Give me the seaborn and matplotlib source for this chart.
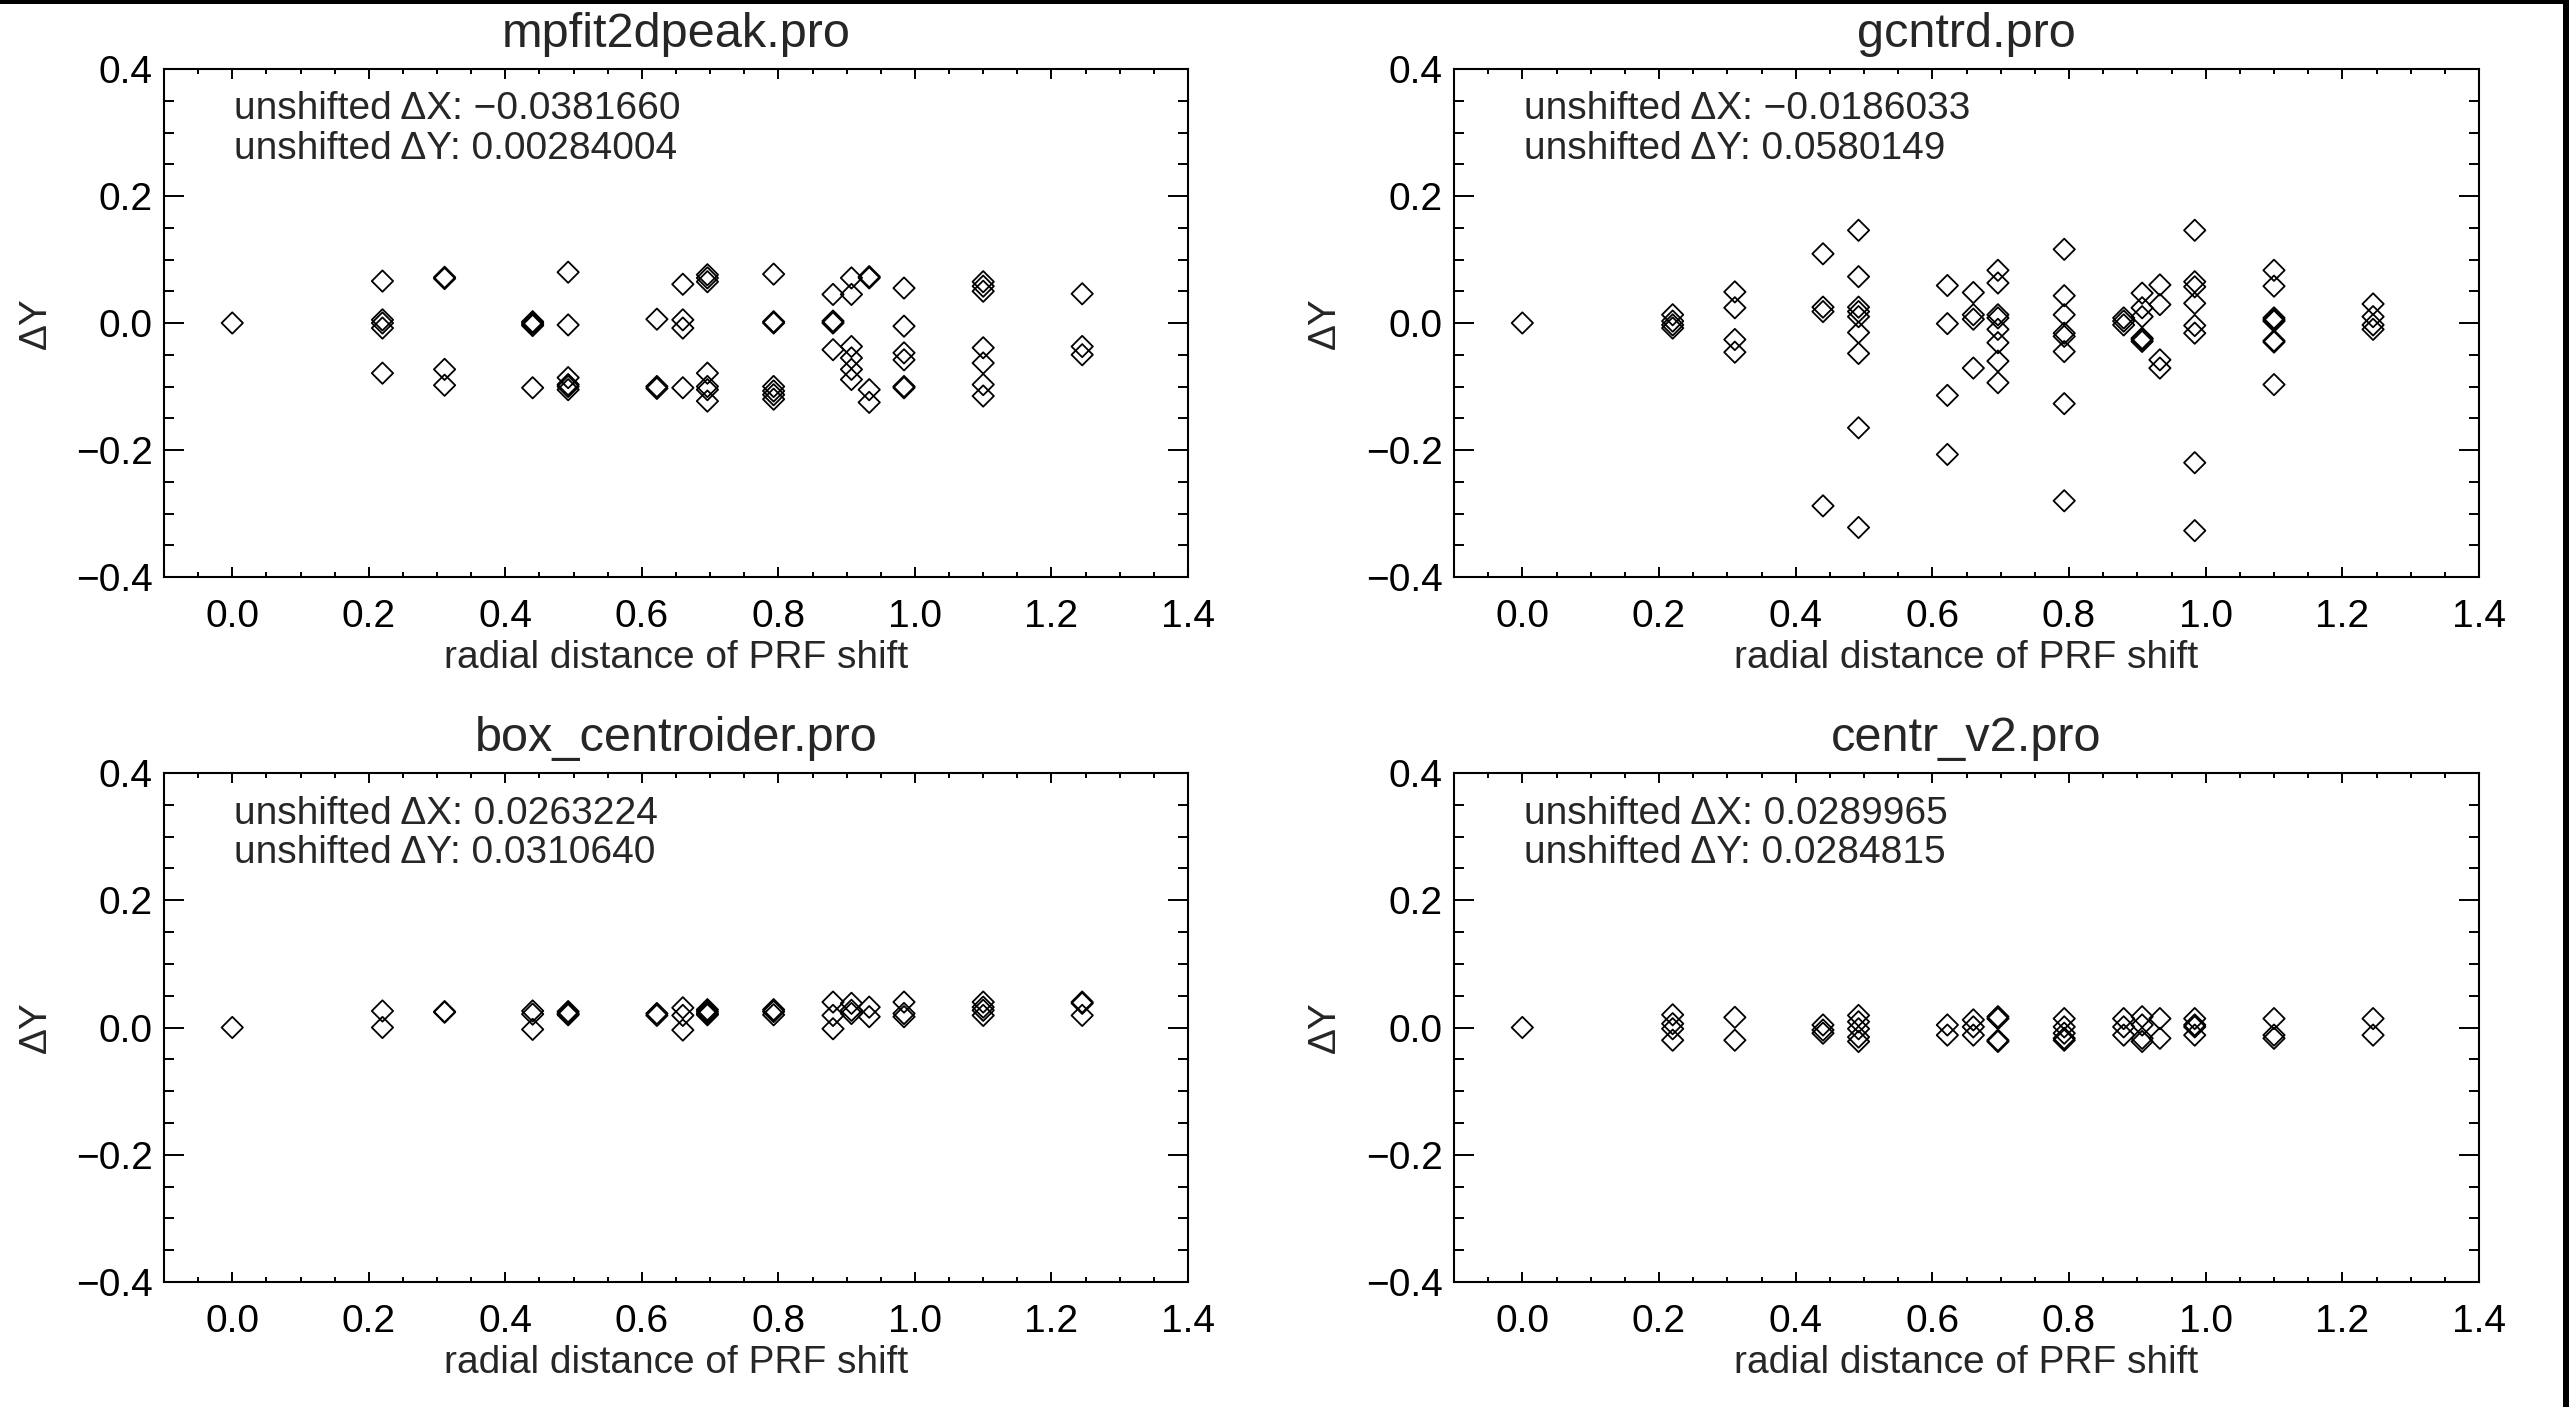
import matplotlib
matplotlib.use("Agg")
import matplotlib.pyplot as plt
from matplotlib.patches import Rectangle
from matplotlib.ticker import MultipleLocator
import seaborn as sns
import pandas as pd

# ---------------- data ----------------
radial = [0.0, 0.220, 0.311, 0.440, 0.492, 0.622, 0.660, 0.696,
          0.793, 0.880, 0.907, 0.933, 0.984, 1.100, 1.245]

mpfit_dy = [
    [0.0],
    [0.066, 0.005, 0.0, -0.008, -0.079],
    [0.072, 0.070, -0.073, -0.098],
    [0.002, 0.0, -0.002, -0.004, -0.102],
    [0.080, -0.003, -0.086, -0.097, -0.100, -0.105],
    [0.006, -0.100, -0.103],
    [0.061, 0.005, -0.008, -0.102],
    [0.076, 0.071, 0.065, -0.079, -0.100, -0.105, -0.123],
    [0.077, 0.002, 0.0, -0.100, -0.107, -0.113, -0.120],
    [0.045, 0.003, 0.0, -0.042],
    [0.071, 0.045, -0.037, -0.055, -0.073, -0.089],
    [0.073, 0.071, -0.105, -0.125],
    [0.055, -0.005, -0.047, -0.058, -0.100, -0.102],
    [0.065, 0.058, 0.050, -0.039, -0.063, -0.097, -0.115],
    [0.046, -0.037, -0.050],
]

gcntrd_dy = [
    [0.0],
    [0.013, 0.003, -0.003, -0.008],
    [0.049, 0.024, -0.026, -0.046],
    [0.109, 0.025, 0.018, -0.288],
    [0.146, 0.073, 0.025, 0.018, 0.010, -0.015, -0.048, -0.165, -0.322],
    [0.059, -0.001, -0.114, -0.207],
    [0.048, 0.013, 0.006, -0.071],
    [0.083, 0.063, 0.013, 0.008, -0.010, -0.031, -0.060, -0.094],
    [0.116, 0.043, 0.013, -0.016, -0.021, -0.045, -0.127, -0.280],
    [0.008, 0.003, -0.003],
    [0.047, 0.024, 0.010, -0.024, -0.026, -0.029],
    [0.060, 0.029, -0.058, -0.071],
    [0.146, 0.065, 0.057, 0.031, -0.004, -0.016, -0.220, -0.327],
    [0.083, 0.058, 0.008, 0.005, 0.003, -0.028, -0.030, -0.097],
    [0.030, 0.010, -0.003, -0.010],
]

box_dy = [
    [0.0],
    [0.026, 0.0],
    [0.025, 0.024],
    [0.026, 0.021, -0.003],
    [0.025, 0.022, 0.020],
    [0.022, 0.019],
    [0.031, 0.019, -0.004],
    [0.028, 0.025, 0.022, 0.020],
    [0.028, 0.025, 0.020],
    [0.040, 0.019, -0.002],
    [0.038, 0.027, 0.022],
    [0.032, 0.017],
    [0.040, 0.022, 0.017],
    [0.040, 0.032, 0.027, 0.019],
    [0.040, 0.038, 0.019],
]

centr_dy = [
    [0.0],
    [0.020, 0.006, -0.002, -0.020],
    [0.016, -0.020],
    [0.004, -0.004, -0.009],
    [0.019, 0.009, -0.002, -0.015, -0.022],
    [0.004, -0.012],
    [0.012, 0.001, -0.012],
    [0.017, 0.014, -0.020, -0.022],
    [0.014, 0.001, -0.009, -0.017, -0.020],
    [0.014, 0.001, -0.012],
    [0.017, 0.004, -0.017, -0.022],
    [0.014, -0.017],
    [0.014, 0.004, 0.001, -0.012],
    [0.014, -0.012, -0.017],
    [0.014, -0.012],
]

titles = ["mpfit2dpeak.pro", "gcntrd.pro", "box_centroider.pro", "centr_v2.pro"]
unshifted_dx = ["\u22120.0381660", "\u22120.0186033", "0.0263224", "0.0289965"]
unshifted_dy = ["0.00284004", "0.0580149", "0.0310640", "0.0284815"]
panel_dy = [mpfit_dy, gcntrd_dy, box_dy, centr_dy]

xticks = [0.0, 0.2, 0.4, 0.6, 0.8, 1.0, 1.2, 1.4]
yticks = [-0.4, -0.2, 0.0, 0.2, 0.4]

# ---------------- style ----------------
sns.set_theme(style="ticks")
plt.rcParams["font.family"] = ["Liberation Sans", "DejaVu Sans"]
plt.rcParams["axes.unicode_minus"] = True

W, H = 2569, 1407
fig = plt.figure(figsize=(W / 100, H / 100), dpi=100)
fig.patch.set_facecolor("white")

# axes boxes in pixels: (left, top, right, bottom)
boxes = [(164, 69, 1188, 577), (1454, 69, 2479, 577),
         (164, 773, 1188, 1282), (1454, 773, 2479, 1282)]

for i, (l, t, r, b) in enumerate(boxes):
    ax = fig.add_axes([l / W, 1 - b / H, (r - l) / W, (b - t) / H])
    rows = [(x, y) for x, ys in zip(radial, panel_dy[i]) for y in ys]
    df = pd.DataFrame(rows, columns=["radial", "dy"])
    sns.scatterplot(data=df, x="radial", y="dy", ax=ax, marker="D", s=118,
                    facecolors="none", edgecolor="black", linewidth=1.3,
                    legend=False)
    ax.set_xlim(-0.1, 1.4)
    ax.set_ylim(-0.4, 0.4)
    ax.set_xticks(xticks)
    ax.set_xticklabels([f"{v:.1f}" for v in xticks])
    ax.set_yticks(yticks)
    ax.set_yticklabels([f"{v:.1f}".replace("-", "\u2212") for v in yticks])
    ax.xaxis.set_minor_locator(MultipleLocator(0.05))
    ax.yaxis.set_minor_locator(MultipleLocator(0.05))
    for s in ax.spines.values():
        s.set_visible(True)
        s.set_linewidth(1.5)
        s.set_color("black")
    ax.tick_params(axis="both", which="both", direction="in", top=True,
                   right=True, colors="black", width=1.4)
    ax.tick_params(axis="x", which="major", length=7, pad=16, labelsize=28)
    ax.tick_params(axis="x", which="minor", length=3.5)
    ax.tick_params(axis="y", which="major", length=14.4, pad=8, labelsize=28)
    ax.tick_params(axis="y", which="minor", length=7.2)
    ax.set_xlabel("radial distance of PRF shift", fontsize=28)
    ax.xaxis.set_label_coords(0.5, -0.124)
    ax.set_ylabel("\u0394Y", fontsize=28)
    ax.yaxis.set_label_coords(-0.108, 0.5)
    ax.set_title(titles[i], fontsize=35, pad=15.5)
    ax.text(0.068, 0.9006, f"unshifted \u0394X: {unshifted_dx[i]}",
            transform=ax.transAxes, fontsize=28, va="baseline", ha="left")
    ax.text(0.068, 0.8234, f"unshifted \u0394Y: {unshifted_dy[i]}",
            transform=ax.transAxes, fontsize=28, va="baseline", ha="left")

# black frame remnants along the top and right edges
fig.patches.append(Rectangle((0, 1 - 4 / H), 1, 4 / H, transform=fig.transFigure,
                             facecolor="black", edgecolor="none", zorder=10))
fig.patches.append(Rectangle((1 - 6 / W, 0), 6 / W, 1, transform=fig.transFigure,
                             facecolor="black", edgecolor="none", zorder=10))

fig.savefig("out.png", dpi=100)
